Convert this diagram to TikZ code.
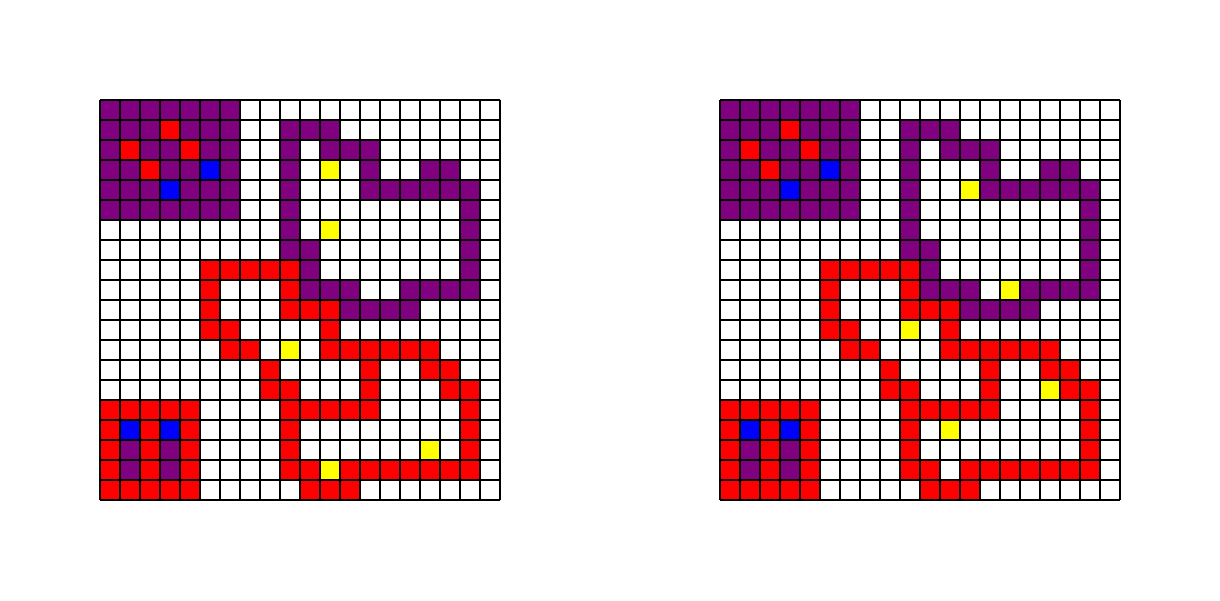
\documentclass[tikz,border=0pt]{standalone}
\definecolor{mpurple}{HTML}{800080}
\definecolor{mred}{HTML}{FF0000}
\definecolor{mblue}{HTML}{0000FF}
\definecolor{myellow}{HTML}{FFFF00}
\tikzset{
  cW/.style={fill=white},
  cP/.style={fill=mpurple},
  cR/.style={fill=mred},
  cB/.style={fill=mblue},
  cY/.style={fill=myellow},
  gridline/.style={draw=black, line width=0.75pt}
}
\newcount\cellx
\def\gridrow#1#2#3{\cellx=#1\relax\def\gy{#2}\gridloop#3\relax}
\def\gridloop#1{\ifx#1\relax\else\fill[c#1] (\the\cellx,\gy) rectangle ++(1,1);\advance\cellx by 1\relax\expandafter\gridloop\fi}
\begin{document}
\begin{tikzpicture}[x=0.5cm,y=0.5cm]
\useasboundingbox[fill=white] (0,0) rectangle (61,30);
% left grid
\gridrow{5}{24}{PPPPPPPWWWWWWWWWWWWW}
\gridrow{5}{23}{PPPRPPPWWPPPWWWWWWWW}
\gridrow{5}{22}{PRPPRPPWWPWPPPWWWWWW}
\gridrow{5}{21}{PPRPPBPWWPWYWPWWPPWW}
\gridrow{5}{20}{PPPBPPPWWPWWWPPPPPPW}
\gridrow{5}{19}{PPPPPPPWWPWWWWWWWWPW}
\gridrow{5}{18}{WWWWWWWWWPWYWWWWWWPW}
\gridrow{5}{17}{WWWWWWWWWPPWWWWWWWPW}
\gridrow{5}{16}{WWWWWRRRRRPWWWWWWWPW}
\gridrow{5}{15}{WWWWWRWWWRPPPWWPPPPW}
\gridrow{5}{14}{WWWWWRWWWRRRPPPPWWWW}
\gridrow{5}{13}{WWWWWRRWWWWRWWWWWWWW}
\gridrow{5}{12}{WWWWWWRRWYWRRRRRRWWW}
\gridrow{5}{11}{WWWWWWWWRWWWWRWWRRWW}
\gridrow{5}{10}{WWWWWWWWRRWWWRWWWRRW}
\gridrow{5}{9}{RRRRRWWWWRRRRRWWWWRW}
\gridrow{5}{8}{RBRBRWWWWRWWWWWWWWRW}
\gridrow{5}{7}{RPRPRWWWWRWWWWWWYWRW}
\gridrow{5}{6}{RPRPRWWWWRRYRRRRRRRW}
\gridrow{5}{5}{RRRRRWWWWWRRRWWWWWWW}
% right grid
\gridrow{36}{24}{PPPPPPPWWWWWWWWWWWWW}
\gridrow{36}{23}{PPPRPPPWWPPPWWWWWWWW}
\gridrow{36}{22}{PRPPRPPWWPWPPPWWWWWW}
\gridrow{36}{21}{PPRPPBPWWPWWWPWWPPWW}
\gridrow{36}{20}{PPPBPPPWWPWWYPPPPPPW}
\gridrow{36}{19}{PPPPPPPWWPWWWWWWWWPW}
\gridrow{36}{18}{WWWWWWWWWPWWWWWWWWPW}
\gridrow{36}{17}{WWWWWWWWWPPWWWWWWWPW}
\gridrow{36}{16}{WWWWWRRRRRPWWWWWWWPW}
\gridrow{36}{15}{WWWWWRWWWRPPPWYPPPPW}
\gridrow{36}{14}{WWWWWRWWWRRRPPPPWWWW}
\gridrow{36}{13}{WWWWWRRWWYWRWWWWWWWW}
\gridrow{36}{12}{WWWWWWRRWWWRRRRRRWWW}
\gridrow{36}{11}{WWWWWWWWRWWWWRWWRRWW}
\gridrow{36}{10}{WWWWWWWWRRWWWRWWYRRW}
\gridrow{36}{9}{RRRRRWWWWRRRRRWWWWRW}
\gridrow{36}{8}{RBRBRWWWWRWYWWWWWWRW}
\gridrow{36}{7}{RPRPRWWWWRWWWWWWWWRW}
\gridrow{36}{6}{RPRPRWWWWRRWRRRRRRRW}
\gridrow{36}{5}{RRRRRWWWWWRRRWWWWWWW}
% grid lines
\foreach \ox in {5,36} {
  \foreach \i in {0,...,20} {
    \draw[gridline] (\ox+\i,5) -- (\ox+\i,25);
    \draw[gridline] (\ox,5+\i) -- (\ox+20,5+\i);
  }
}
\end{tikzpicture}
\end{document}
